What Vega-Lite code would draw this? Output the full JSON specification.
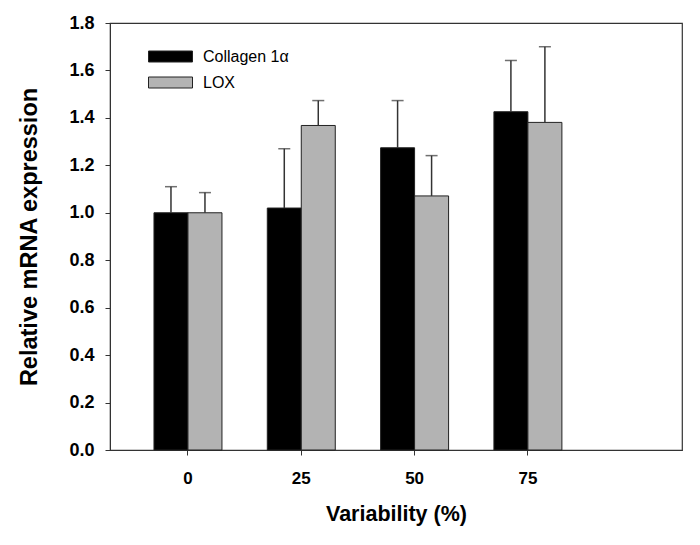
{
  "$schema": "https://vega.github.io/schema/vega-lite/v6.json",
  "width": 572,
  "height": 427,
  "autosize": {"type": "none"},
  "padding": {"left": 110, "top": 23, "right": 18, "bottom": 95},
  "background": "white",
  "config": {
    "font": "Liberation Sans",
    "view": {"stroke": "#333333", "strokeWidth": 1.2},
    "axis": {"grid": false, "domainColor": "#333333", "tickColor": "#333333", "labelColor": "#000000", "titleColor": "#000000"}
  },
  "data": {
    "values": [
      {"var": "0", "gene": "Collagen 1α", "mean": 1.0, "upper": 1.11},
      {"var": "0", "gene": "LOX", "mean": 1.0, "upper": 1.085},
      {"var": "25", "gene": "Collagen 1α", "mean": 1.02, "upper": 1.27},
      {"var": "25", "gene": "LOX", "mean": 1.368, "upper": 1.473},
      {"var": "50", "gene": "Collagen 1α", "mean": 1.274, "upper": 1.473},
      {"var": "50", "gene": "LOX", "mean": 1.071, "upper": 1.241},
      {"var": "75", "gene": "Collagen 1α", "mean": 1.426, "upper": 1.642},
      {"var": "75", "gene": "LOX", "mean": 1.381, "upper": 1.70}
    ]
  },
  "encoding": {
    "x": {
      "field": "var", "type": "nominal", "sort": ["0", "25", "50", "75"],
      "scale": {"type": "band", "paddingInner": 0.4, "paddingOuter": 0.724, "align": 0.268},
      "axis": {"title": "Variability (%)", "labelAngle": 0, "labelFontSize": 17, "labelFontWeight": "bold", "labelPadding": 15, "tickSize": 5, "titleFontSize": 21.5, "titleFontWeight": "bold", "titlePadding": 17}
    },
    "xOffset": {"field": "gene", "type": "nominal", "sort": ["Collagen 1α", "LOX"], "scale": {"paddingInner": 0, "paddingOuter": 0}}
  },
  "layer": [
    {
      "mark": {"type": "bar", "stroke": "#222222", "strokeWidth": 1, "opacity": 1},
      "encoding": {
        "y": {
          "field": "mean", "type": "quantitative",
          "scale": {"domain": [0, 1.8], "nice": false},
          "axis": {"title": "Relative mRNA expression", "values": [0, 0.2, 0.4, 0.6, 0.8, 1.0, 1.2, 1.4, 1.6, 1.8], "format": ".1f", "labelFontSize": 18, "labelFontWeight": "bold", "labelPadding": 11, "tickSize": 5, "titleFontSize": 23.5, "titleFontWeight": "bold", "titlePadding": 27}
        },
        "color": {
          "field": "gene", "type": "nominal",
          "scale": {"domain": ["Collagen 1α", "LOX"], "range": ["#000000", "#b3b3b3"]},
          "legend": {
            "title": null, "orient": "none", "legendX": 49, "legendY": 22,
            "symbolType": "M-2,-0.5H2V0.5H-2Z", "symbolSize": 484,
            "symbolStrokeColor": "#222222", "symbolStrokeWidth": 1, "symbolOpacity": 1,
            "labelFontSize": 16, "labelColor": "#000000", "labelOffset": 21, "rowPadding": 6
          }
        }
      }
    },
    {
      "mark": {"type": "rule", "color": "#333333", "strokeWidth": 1.5},
      "encoding": {
        "y": {"field": "mean", "type": "quantitative"},
        "y2": {"field": "upper"}
      }
    },
    {
      "mark": {"type": "tick", "color": "#333333", "thickness": 1.5, "size": 12, "orient": "horizontal"},
      "encoding": {
        "y": {"field": "upper", "type": "quantitative"}
      }
    }
  ]
}
